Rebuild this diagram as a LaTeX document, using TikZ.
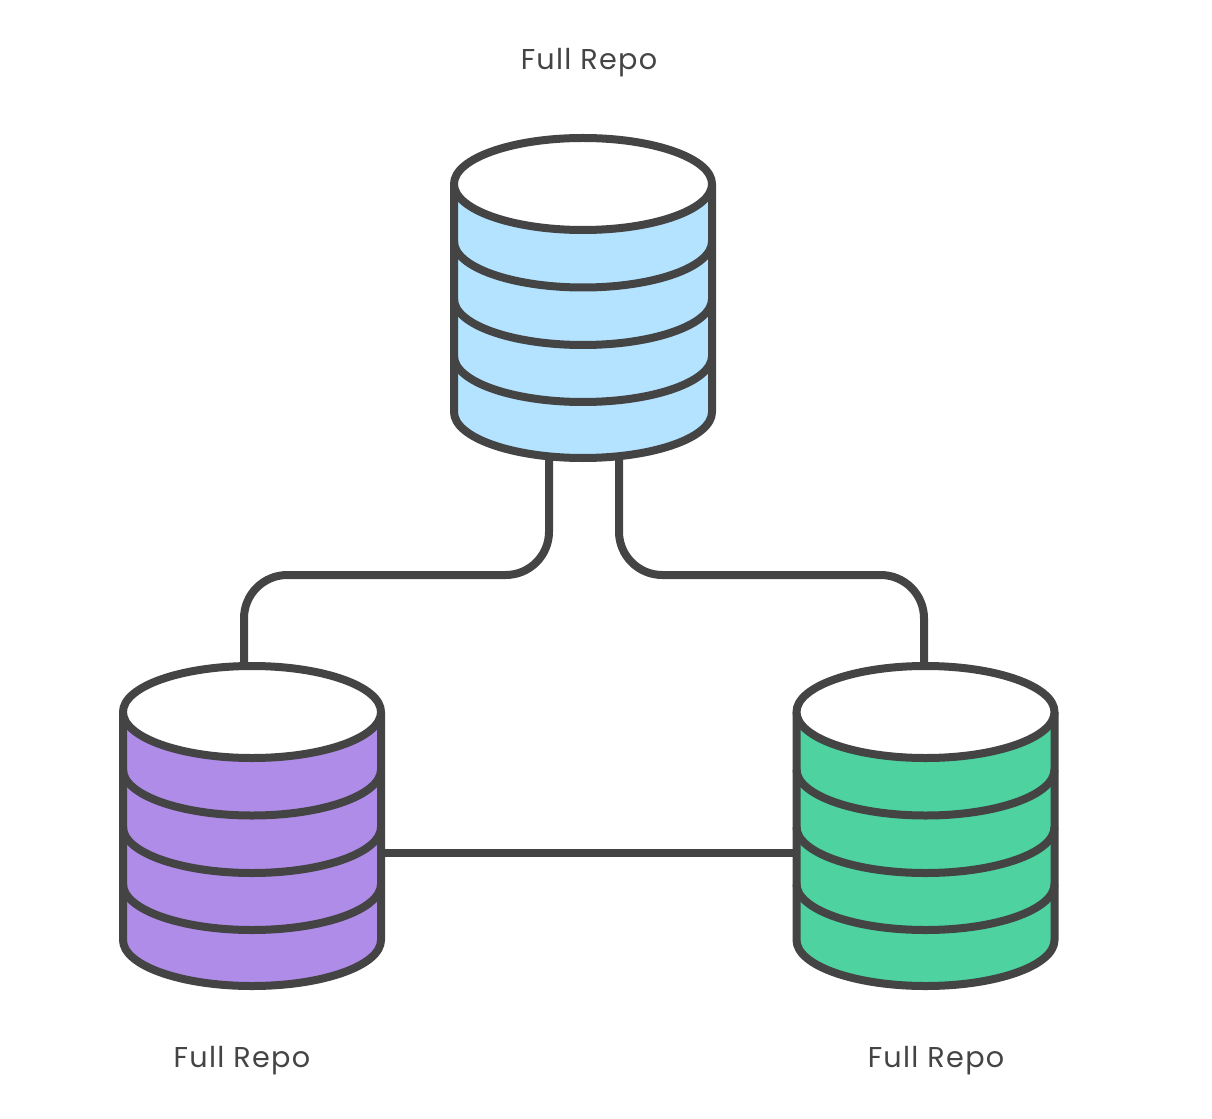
\documentclass[tikz,border=0pt]{standalone}
\usepackage{fontspec}
\setmainfont[LetterSpace=4.5]{Poppins}
\definecolor{ink}{HTML}{444444}
\definecolor{dbblue}{HTML}{B3E3FF}
\definecolor{dbpurple}{HTML}{AF8CE8}
\definecolor{dbgreen}{HTML}{4DD2A0}
\tikzset{
  outline/.style={draw=ink,line width=6pt,line join=round},
  connector/.style={outline,rounded corners=32.5pt},
  caption/.style={text=ink,font=\fontsize{21.5pt}{25pt}\selectfont,inner sep=0pt,anchor=center},
  dbanchor/.style={minimum width=193.5pt,minimum height=240pt,inner sep=0pt},
}
\newcommand{\dbcyl}[4]{%
  \node[dbanchor] (#1) at (#2,#3+114) {};
  \begin{scope}[shift={(#2,#3)}]
    \path[fill=#4] (-129,0) -- (-129,228) arc[start angle=180,end angle=0,x radius=129,y radius=46] -- (129,0) -- cycle;
    \draw[outline] (-129,0) -- (-129,228) arc[start angle=180,end angle=0,x radius=129,y radius=46] -- (129,0);
    \foreach \yy in {57.5,115,172}
      \draw[outline] (-129,\yy) arc[start angle=180,end angle=0,x radius=129,y radius=46];
    \draw[outline,fill=white] (0,0) ellipse[x radius=129,y radius=46];
  \end{scope}}
\begin{document}
\begin{tikzpicture}[x=0.75pt,y=-0.75pt]
\useasboundingbox (0,0) rectangle (1212,1119);
% connector ends
\coordinate (topL) at (549,455);
\coordinate (topR) at (619,455);
\coordinate (leftT) at (244,668);
\coordinate (rightT) at (924,668);
\coordinate (leftE) at (378,853);
\coordinate (rightE) at (800,853);
\draw[connector] (topL) -- (549,575) -- (244,575) -- (leftT);
\draw[connector] (topR) -- (619,575) -- (924,575) -- (rightT);
\draw[outline] (leftE) -- (rightE);
\dbcyl{repoTop}{583}{184}{dbblue}
\dbcyl{repoLeft}{252}{712}{dbpurple}
\dbcyl{repoRight}{925.5}{712}{dbgreen}
\node[caption] (capTop) at (589,63) {Full Repo};
\node[caption] (capLeft) at (242,1061) {Full Repo};
\node[caption] (capRight) at (936,1061) {Full Repo};
\end{tikzpicture}
\end{document}
